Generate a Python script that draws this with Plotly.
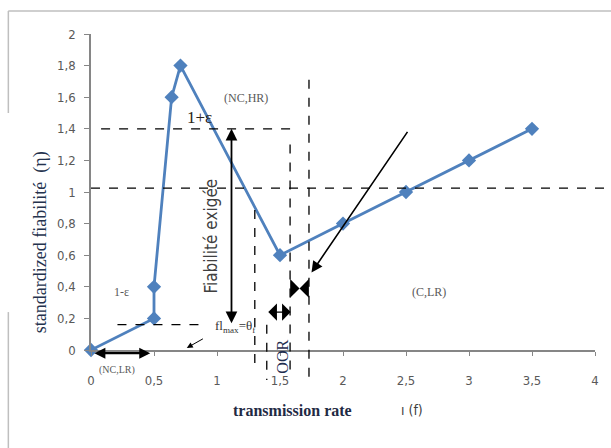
import plotly.graph_objects as go

# ---- data ----
rate = [0, 0.5, 0.5, 0.64, 0.71, 1.5, 2.0, 2.5, 3.0, 3.5]
fiab = [0, 0.2, 0.4, 1.6, 1.8, 0.6, 0.8, 1.0, 1.2, 1.4]
x_ticks = [0, 0.5, 1, 1.5, 2, 2.5, 3, 3.5, 4]
x_tick_text = ["0", "0,5", "1", "1,5", "2", "2,5", "3", "3,5", "4"]
y_ticks = [0, 0.2, 0.4, 0.6, 0.8, 1.0, 1.2, 1.4, 1.6, 1.8, 2.0]
y_tick_text = ["0", "0,2", "0,4", "0,6", "0,8", "1", "1,2", "1,4", "1,6", "1,8", "2"]

X_RANGE = [0, 4]
Y_RANGE = [0, 2]

BLUE = "#4F81BD"
AX = "#868686"
TICKF = "Liberation Sans Narrow, DejaVu Sans Condensed, Liberation Sans, sans-serif"
SERIF = "Liberation Serif, DejaVu Serif, serif"


def yp(v):
    return (v - Y_RANGE[0]) / (Y_RANGE[1] - Y_RANGE[0])


def xp(v):
    return (v - X_RANGE[0]) / (X_RANGE[1] - X_RANGE[0])


fig = go.Figure()
fig.add_trace(go.Scatter(
    x=rate, y=fiab, mode="lines+markers",
    line=dict(color=BLUE, width=2.8),
    marker=dict(symbol="diamond", size=11, color=BLUE),
    cliponaxis=False, showlegend=False, hoverinfo="skip"))

shapes = []
dash = dict(color="black", width=1.3, dash="dash")
# horizontal dashed lines (data y, x extents)
for y, x0, x1 in [(1.4, 0.08, 1.6), (1.025, 0.0, 4.12), (0.16, 0.21, 0.92)]:
    shapes.append(dict(type="line", xref="paper", yref="y",
                       x0=xp(x0), x1=xp(x1), y0=y, y1=y, line=dash, layer="above"))
# vertical dashed lines (data x, y extents)
for x, y0, y1 in [(1.30, 0.886, -0.11), (1.58, 1.30, -0.16),
                  (1.73, 1.71, -0.21), (1.395, 0.16, -0.19)]:
    shapes.append(dict(type="line", xref="x", yref="paper",
                       x0=x, x1=x, y0=yp(y0), y1=yp(y1), line=dash, layer="above"))

# outer frame fragments (paper coords)
frame = dict(color="#BFBFBF", width=1.5)
shapes += [
    dict(type="line", xref="paper", yref="paper", x0=-0.164, x1=1.05, y0=1.073, y1=1.073, line=frame),
    dict(type="line", xref="paper", yref="paper", x0=-0.164, x1=-0.164, y0=1.073, y1=0.75, line=frame),
    dict(type="line", xref="paper", yref="paper", x0=-0.164, x1=-0.164, y0=0.12, y1=-0.32, line=frame),
]

ann = []


def arrow(x, y, ax, ay, side="end", size=1.2, width=1.6, head=2):
    ann.append(dict(x=x, y=y, ax=ax, ay=ay, xref="x", yref="y", axref="x", ayref="y",
                    showarrow=True, arrowhead=head, arrowside=side, arrowsize=size,
                    arrowwidth=width, arrowcolor="black", text="", standoff=0, startstandoff=0))


def label(x, y, text, size=11, color="#595959", angle=0, family=SERIF):
    # y given in data units, placed via paper coords so it is never hidden off-range
    ann.append(dict(x=x, y=yp(y), xref="x", yref="paper", text=text, showarrow=False,
                    xanchor="center", yanchor="middle",
                    textangle=angle, font=dict(family=family, size=size, color=color)))


arrow(1.115, 1.4, 1.115, 0.16, side="end+start", size=1.3, width=1.8)
arrow(1.75, 0.49, 2.52, 1.39, size=1.4, width=1.6)
arrow(0.76, 0.013, 0.90, 0.076, size=1.2, width=1.0)
arrow(1.585, 0.24, 1.395, 0.24, side="end+start", size=2.4, width=1.2, head=1)
arrow(1.655, 0.39, 1.58, 0.39, size=2.6, width=1.2, head=1)
arrow(1.655, 0.39, 1.73, 0.39, size=2.6, width=1.2, head=1)
# double arrow just below the x axis
ann.append(dict(x=0.47, y=yp(-0.02), xref="x", yref="paper", ax=0.015, ay=0,
                axref="x", ayref="pixel", showarrow=True, arrowhead=2, arrowside="end+start",
                arrowsize=1.0, arrowwidth=2.2, arrowcolor="black", text="",
                standoff=0, startstandoff=0))

label(1.23, 1.595, "(NC,HR)", size=12)
label(0.86, 1.47, "1+ε", size=17, color="#2a2418")
label(0.245, 0.367, "1-ε", size=12)
label(2.68, 0.367, "(C,LR)", size=12)
label(0.21, -0.125, "(NC,LR)", size=10)
label(1.52, -0.045, "OOR", size=16, color="#1f2d4f", angle=-90)
label(0.955, 0.72, "Fiabilité exigée", size=17, color="#404040", angle=-90, family=TICKF)
label(1.15, 0.15, "fl<sub>max</sub>=θ<sub>f</sub>", size=13, color="#333333")

# axis titles
ann.append(dict(x=-0.10, y=0.34, xref="paper", yref="paper", text="standardized fiabilité  (η)",
                showarrow=False, textangle=-90, xanchor="center", yanchor="middle",
                font=dict(family=SERIF, size=18, color="#24324d")))
ann.append(dict(x=0.40, y=-0.19, xref="paper", yref="paper", text="<b>transmission rate</b>",
                showarrow=False, xanchor="center", yanchor="middle",
                font=dict(family=SERIF, size=16, color="#1f2a44")))
ann.append(dict(x=0.636, y=-0.19, xref="paper", yref="paper", text="ı (f)",
                showarrow=False, xanchor="center", yanchor="middle",
                font=dict(family=TICKF, size=14, color="#404040")))

fig.update_layout(
    width=611, height=448,
    margin=dict(l=91, r=14, t=34, b=98),
    paper_bgcolor="white", plot_bgcolor="white",
    shapes=shapes, annotations=ann, showlegend=False,
    xaxis=dict(range=X_RANGE, tickvals=x_ticks, ticktext=x_tick_text,
               showgrid=False, zeroline=False, showline=True, linecolor=AX, linewidth=1.5,
               ticks="outside", ticklen=4, tickcolor=AX, ticklabelstandoff=14,
               tickfont=dict(family=TICKF, size=13, color="#595959")),
    yaxis=dict(range=Y_RANGE, tickvals=y_ticks, ticktext=y_tick_text,
               showgrid=False, zeroline=False, showline=True, linecolor=AX, linewidth=1.5,
               ticks="outside", ticklen=5, tickcolor=AX, ticklabelstandoff=6,
               tickfont=dict(family=TICKF, size=13, color="#595959")),
)

fig.write_html("out.html", config={"displayModeBar": False},
               post_script="document.body.style.margin='0';")
